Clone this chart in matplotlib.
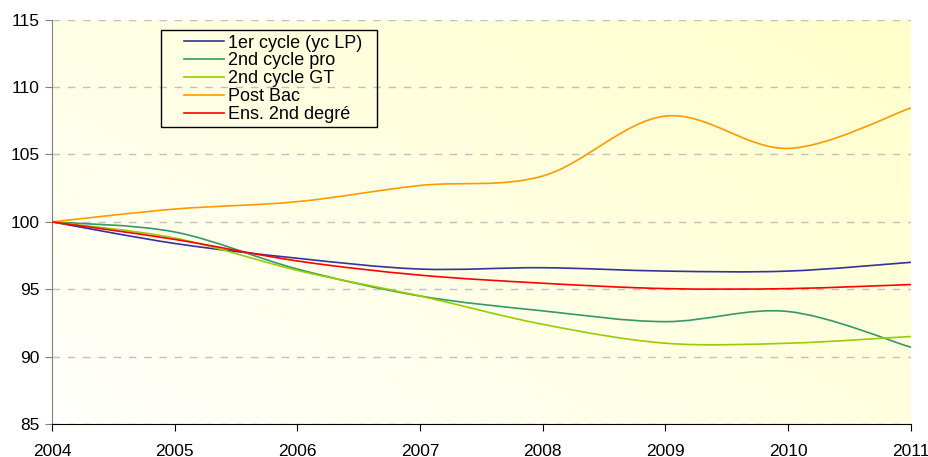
import numpy as np
import matplotlib
matplotlib.use("Agg")
import matplotlib.pyplot as plt
from matplotlib.path import Path
from matplotlib.patches import PathPatch, Rectangle
from matplotlib.lines import Line2D

plt.rcParams['font.family'] = ['Liberation Sans', 'DejaVu Sans']

# data (index, base 100 in 2004)
years = [2004, 2005, 2006, 2007, 2008, 2009, 2010, 2011]
cycle1 = [100, 98.4, 97.3, 96.5, 96.6, 96.35, 96.35, 97.0]
cycle2_pro = [100, 99.25, 96.5, 94.5, 93.4, 92.6, 93.35, 90.7]
cycle2_gt = [100, 98.8, 96.4, 94.5, 92.4, 91.0, 91.0, 91.5]
post_bac = [100, 100.95, 101.5, 102.7, 103.4, 107.85, 105.45, 108.45]
ens_2nd = [100, 98.7, 97.1, 96.05, 95.45, 95.05, 95.05, 95.35]

labels = ["1er cycle (yc LP)", "2nd cycle pro", "2nd cycle GT", "Post Bac", "Ens. 2nd degré"]
colors = ["#333399", "#339966", "#99CC00", "#FF9900", "#FF0000"]
series = [cycle1, cycle2_pro, cycle2_gt, post_bac, ens_2nd]


# smoothed line like a spreadsheet: cubic bezier through every point
def	smooth_path(x, y):
	pts = np.column_stack([x, y]).astype(float)
	ext = np.vstack([pts[0], pts, pts[-1]])
	verts = [pts[0]]
	codes = [Path.MOVETO]
	for i in range(len(pts) - 1):
		p0, p1, p2, p3 = ext[i], ext[i + 1], ext[i + 2], ext[i + 3]
		verts += [p1 + (p2 - p0) / 6.0, p2 - (p3 - p1) / 6.0, p2]
		codes += [Path.CURVE4] * 3
	return (Path(verts, codes))


fig = plt.figure(figsize=(9.29, 4.57), dpi=100)
ax = fig.add_axes([0.056, 0.072, 0.9245, 0.885])

# pale yellow gradient background
gx, gy = np.meshgrid(np.linspace(0, 1, 200), np.linspace(0, 1, 100))
g = np.clip((gx * 0.55 + gy * 0.45), 0, 1)
img = np.zeros((100, 200, 3))
img[..., 0] = 1.0
img[..., 1] = 1.0
img[..., 2] = 0.99 - 0.20 * g
ax.imshow(img, extent=[2004, 2011, 85, 115], origin="lower", aspect="auto", zorder=0)

for vals, col in zip(series, colors):
	ax.add_patch(PathPatch(smooth_path(years, vals), fill=False, edgecolor=col, lw=1.2, zorder=3))

ax.set_xlim(2004, 2011)
ax.set_ylim(85, 115)
ax.set_xticks(years)
ax.set_yticks(range(85, 116, 5))
ax.yaxis.grid(True, color="#C0C0C0", linestyle=(0, (5.4, 5.6)), lw=1.0, zorder=1)
ax.set_axisbelow(True)

for s in ["top", "right"]:
	ax.spines[s].set_visible(False)
ax.spines["left"].set_color("#808080")
ax.spines["bottom"].set_color("#000000")
ax.tick_params(axis="both", direction="out", length=5, labelsize=12.5, colors="#000000")
ax.tick_params(axis="y", color="#808080", pad=4)
ax.tick_params(axis="x", pad=9)

# legend: entries without frame, box drawn separately
handles = [Line2D([0], [0], color=c, lw=1.2) for c in colors]
leg = fig.legend(handles, labels, loc="upper left", bbox_to_anchor=(184 / 929, 1 - 34.5 / 457),
	frameon=False, fontsize=13, handlelength=2.2, handletextpad=0.25, labelspacing=0.05,
	borderpad=0.0, borderaxespad=0.0)
fig.patches.append(Rectangle((161 / 929, 1 - 127 / 457), 216 / 929, 97 / 457,
	transform=fig.transFigure, fill=False, edgecolor="#000000", lw=1.0, zorder=5))

fig.savefig("out.png", dpi=100)
